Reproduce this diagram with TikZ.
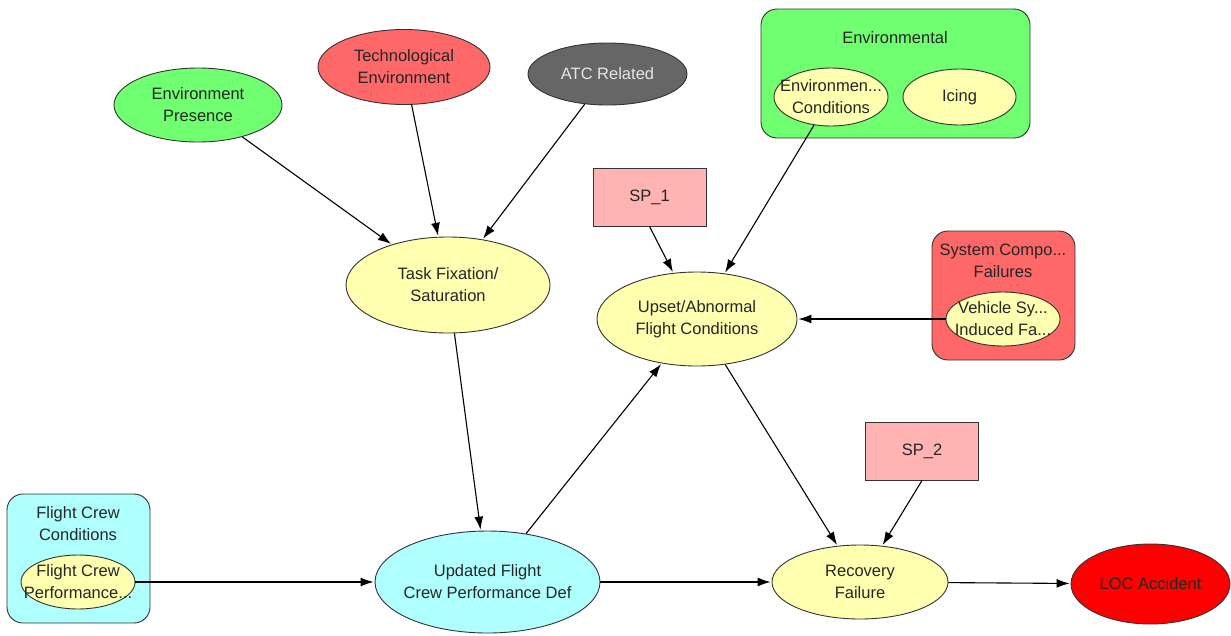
\documentclass[tikz,border=0pt]{standalone}
\usepackage{fontspec}
\setmainfont{Liberation Sans}
\usepackage{tikz}
\usetikzlibrary{arrows.meta,shapes.geometric,positioning}
\definecolor{envgreen}{RGB}{112,255,112}
\definecolor{techred}{RGB}{255,104,104}
\definecolor{atcgray}{RGB}{102,102,102}
\definecolor{nodeyellow}{RGB}{255,255,176}
\definecolor{crewcyan}{RGB}{176,255,255}
\definecolor{sppink}{RGB}{255,179,179}
\definecolor{locred}{RGB}{255,0,0}

\begin{document}
\begin{tikzpicture}[->,>={Latex[length=13pt,width=9pt]},shorten >=1pt,x=1pt,y=-1pt,
                    line width=1.1pt,font=\fontsize{16.5}{22}\selectfont]
  \tikzstyle{every node}=[align=center,text=black!85,draw=black!80,line width=0.9pt]
  \tikzstyle{chance}=[ellipse,fill=nodeyellow,inner xsep=-16pt,inner ysep=-8pt]
  \tikzstyle{decision}=[rectangle,fill=sppink,inner sep=0pt,minimum width=113,minimum height=58]
  \tikzstyle{group}=[rectangle,rounded corners=16pt,inner sep=0pt]
  \tikzstyle{title}=[draw=none,fill=none]

  \useasboundingbox (0,0) rectangle (1231,635);

  % submodel boxes
  \node[group,fill=envgreen,minimum width=269,minimum height=129] (envgrp) at (895.5,73.5) {};
  \node[title] (envtitle) at (895,38) {Environmental};
  \node[group,fill=techred,minimum width=143,minimum height=129] (sysgrp) at (1003.5,295.5) {};
  \node[title] (systitle) at (1003,261) {System Compo...\\Failures};
  \node[group,fill=crewcyan,minimum width=143,minimum height=129] (crewgrp) at (78.5,558.5) {};
  \node[title] (crewtitle) at (78,524) {Flight Crew\\Conditions};

  \node[chance,minimum width=114,minimum height=58] (envcond) at (831,97) {Environmen...\\Conditions};
  \node[chance,minimum width=113,minimum height=56] (icing) at (959.5,97) {Icing};
  \node[chance,minimum width=114,minimum height=54] (vehicle) at (1003,319) {Vehicle Sy...\\Induced Fa...};
  \node[chance,minimum width=114,minimum height=54] (crewperf) at (78,582) {Flight Crew\\Performance...};

  % top row
  \node[chance,fill=envgreen,minimum width=168,minimum height=74] (envpres) at (198,105) {Environment\\Presence};
  \node[chance,fill=techred,minimum width=172,minimum height=75] (techenv) at (404,67) {Technological\\Environment};
  \node[chance,fill=atcgray,text=black!10,minimum width=159,minimum height=62] (atc) at (607.5,74) {ATC Related};

  \node[decision] (sp1) at (649.5,197) {SP\_1};
  \node[decision] (sp2) at (922,451) {SP\_2};

  \node[chance,minimum width=204,minimum height=96] (taskfix) at (448,285) {Task Fixation/\\Saturation};
  \node[chance,minimum width=200,minimum height=94] (upset) at (697,319) {Upset/Abnormal\\Flight Conditions};
  \node[chance,fill=crewcyan,minimum width=225,minimum height=102] (updated) at (487.5,582) {Updated Flight\\Crew Performance Def};
  \node[chance,minimum width=176,minimum height=74] (recovery) at (860,582) {Recovery\\Failure};
  \node[chance,fill=locred,minimum width=159,minimum height=80] (loc) at (1150.5,584) {LOC Accident};

  \path (envpres) edge (taskfix)
        (techenv) edge (taskfix)
        (atc) edge (taskfix)
        (envcond) edge (upset)
        (sp1.south) edge (upset)
        (vehicle) edge (upset)
        (taskfix) edge (updated)
        (updated) edge (upset)
        (upset) edge (recovery)
        (sp2.south) edge (recovery)
        (crewperf) edge (updated)
        (updated) edge (recovery)
        (recovery) edge (loc);
\end{tikzpicture}
\end{document}
